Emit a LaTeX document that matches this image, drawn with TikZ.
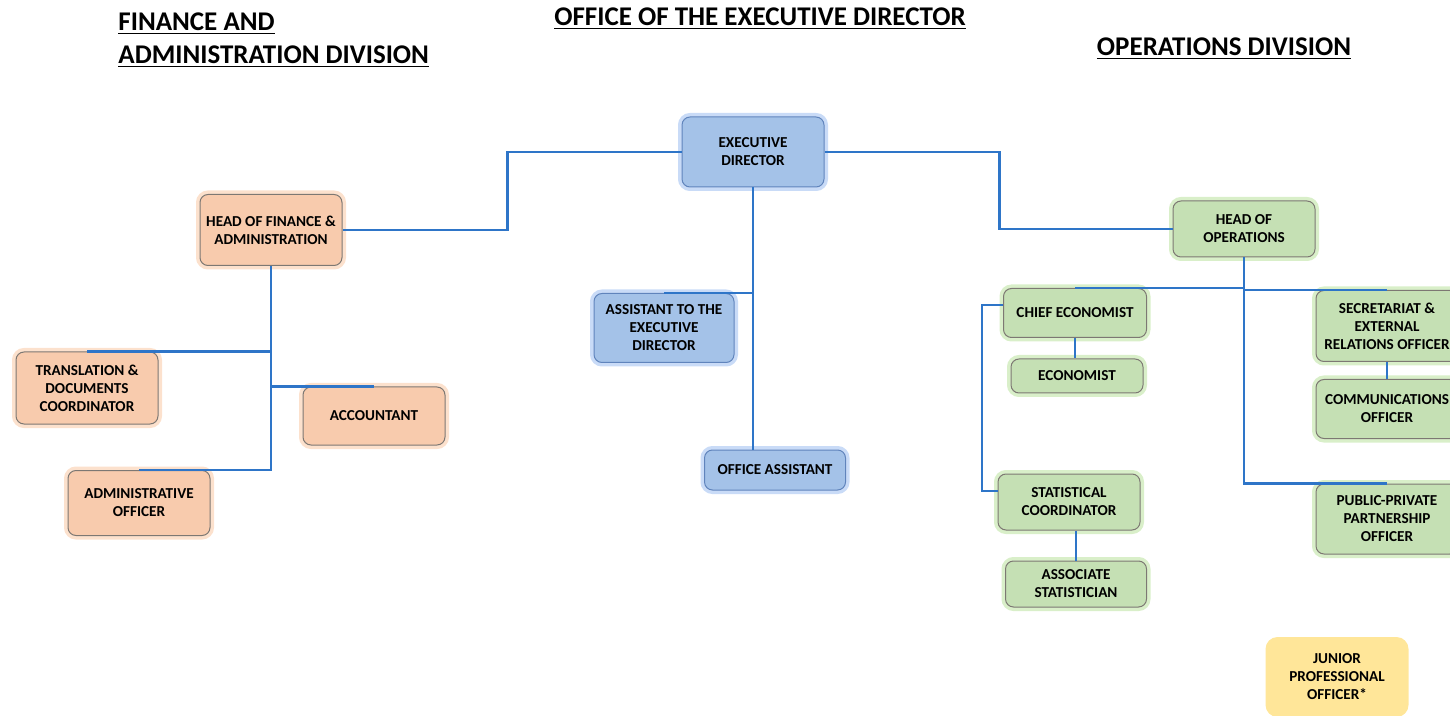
\documentclass[tikz,border=0pt]{standalone}
\usepackage{fontspec}
\setmainfont{Carlito}
\usepackage{xcolor}
\usepackage{tikz}
\usetikzlibrary{positioning,calc}
\definecolor{finorange}{RGB}{248,203,173}
\definecolor{finglow}  {RGB}{247,180,130}
\definecolor{edblue}   {RGB}{164,194,232}
\definecolor{edglow}   {RGB}{120,165,235}
\definecolor{opsgreen} {RGB}{197,224,180}
\definecolor{opsglow}  {RGB}{160,215,120}
\definecolor{jpoyellow}{RGB}{255,230,153}
\definecolor{boxedge}  {RGB}{125,120,115}
\definecolor{linkblue} {RGB}{46,117,200}
\tikzset{
  orgbox/.style ={draw=boxedge, rounded corners=4pt, align=center,
                  minimum width=71pt, minimum height=#1, inner sep=2pt,
                  font=\fontsize{7.6}{9}\selectfont\bfseries, line width=0.5pt},
  orgbox/.default=30pt,
  finbox/.style ={orgbox=#1, fill=finorange,
                  preaction={draw=finglow, line width=4pt, opacity=.4}},
  finbox/.default=30pt,
  edbox/.style  ={orgbox=#1, fill=edblue, draw=edglow!80!black,
                  preaction={draw=edglow, line width=4pt, opacity=.4}},
  edbox/.default=30pt,
  opsbox/.style ={orgbox=#1, fill=opsgreen,
                  preaction={draw=opsglow, line width=4pt, opacity=.4}},
  opsbox/.default=30pt,
  jpobox/.style ={orgbox=40pt, fill=jpoyellow, draw=none, rounded corners=6pt},
  divtitle/.style={font=\fontsize{13.5}{16.5}\selectfont\bfseries, align=left,
                  inner sep=0pt},
  link/.style   ={draw=linkblue, line width=1.2pt},
}
\begin{document}
\begin{tikzpicture}[x=0.5pt,y=-0.5pt]
  \useasboundingbox (0,0) rectangle (1450,716);
  \clip (0,0) rectangle (1450,716);
  % division titles
  \node[divtitle, anchor=north west] (fintitle) at (118,12)
    {\underline{FINANCE AND}\\\underline{ADMINISTRATION DIVISION}};
  \node[divtitle] (edtitle) at (760,19) {\underline{OFFICE OF THE EXECUTIVE DIRECTOR}};
  \node[divtitle] (opstitle) at (1224,49) {\underline{OPERATIONS DIVISION}};
  % office of the executive director
  \node[edbox=35pt] (ed) at (753,152) {EXECUTIVE\\DIRECTOR};
  \node[edbox=34.5pt, minimum width=70pt] (asst) at (664,328) {ASSISTANT TO THE\\EXECUTIVE\\DIRECTOR};
  \node[edbox=20pt, minimum width=70.5pt] (oa) at (775,470) {OFFICE ASSISTANT};
  % finance and administration
  \node[finbox=35.5pt] (hfa) at (271,230) {HEAD OF FINANCE \&\\ADMINISTRATION};
  \node[finbox=36pt] (trans) at (87,388) {TRANSLATION \&\\DOCUMENTS\\COORDINATOR};
  \node[finbox=29pt] (acc) at (374,416) {ACCOUNTANT};
  \node[finbox=32.5pt] (ao) at (139,503) {ADMINISTRATIVE\\OFFICER};
  % operations
  \node[opsbox=28pt] (hops) at (1244,229) {HEAD OF\\OPERATIONS};
  \node[opsbox=24.5pt, minimum width=71.5pt] (ce) at (1075,313) {CHIEF ECONOMIST};
  \node[opsbox=17pt, minimum width=66pt] (econ) at (1077,376) {ECONOMIST};
  \node[opsbox=28pt] (sc) at (1069,502) {STATISTICAL\\COORDINATOR};
  \node[opsbox=23pt, minimum width=70.5pt] (as) at (1076,584) {ASSOCIATE\\STATISTICIAN};
  \node[opsbox=35.5pt] (sec) at (1387,326) {SECRETARIAT \&\\EXTERNAL\\RELATIONS OFFICER};
  \node[opsbox=29.5pt] (comm) at (1387,409) {COMMUNICATIONS\\OFFICER};
  \node[opsbox=35pt] (ppp) at (1387,519) {PUBLIC-PRIVATE\\PARTNERSHIP\\OFFICER};
  \node[jpobox, minimum width=71.5pt] (jpo) at (1337,677) {JUNIOR\\PROFESSIONAL\\OFFICER*};
  % connectors
  \draw[link] (ed.west) -- ++(-174,0) |- (hfa.east);
  \draw[link] (ed.east) -- ++(175,0) |- (hops.west);
  \draw[link] (ed.south) -- (ed.south |- oa.north);
  \draw[link] (ed.south |- asst.north) -- (asst.north);
  \draw[link] (hfa.south) |- (ao.north);
  \draw[link] (hfa.south |- trans.north) -- (trans.north);
  \draw[link] (hfa.south |- acc.north) -- (acc.north);
  \draw[link] (hops.south) |- (ppp.north);
  \draw[link] (hops.south |- ce.north) -- (ce.north);
  \draw[link] (hops.south |- sec.north) -- (sec.north);
  \draw[link] ([yshift=4pt]ce.west) -- ++(-21,0) |- ([yshift=5.5pt]sc.west);
  \draw[link] (ce.south) -- (ce.south |- econ.north);
  \draw[link] (sc.south -| as.north) -- (as.north);
  \draw[link] (sec.south) -- (comm.north);
\end{tikzpicture}
\end{document}
